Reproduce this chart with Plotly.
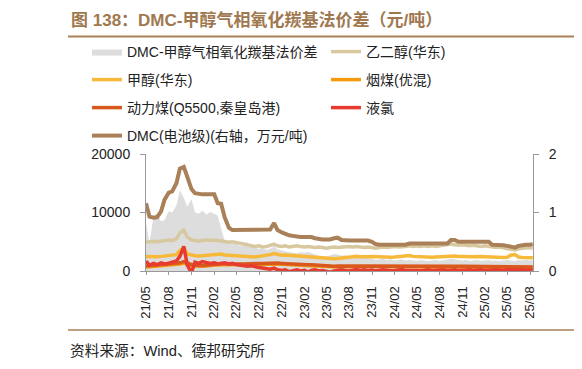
import pandas as pd
import plotly.graph_objects as go

# semi-monthly observation dates (1st / 15th), May 2021 - Aug 2025
dates = list(pd.date_range("2021-05-01", "2025-08-01", freq="SMS").strftime("%Y-%m-%d")) + ["2025-08-12"]

tick_labels = ["21/05", "21/08", "21/11", "22/02", "22/05", "22/08", "22/11", "23/02", "23/05",
               "23/08", "23/11", "24/02", "24/05", "24/08", "24/11", "25/02", "25/05", "25/08"]
left_ticks = [0, 10000, 20000]
right_ticks = [0, 1, 2]

spread = [8300, 4800, 9500, 9800, 8500, 8700, 10200, 10000, 11200, 13800, 12500, 11000,
          12300, 10000, 9800, 10300, 9600, 10100, 9800, 9500, 7200, 5200, 4800, 4600,
          4700, 4300, 4400, 4900, 4200, 4000, 3800, 3900, 3600, 3800, 4200, 3700,
          3500, 3300, 3200, 3100, 3000, 3200, 3100, 3300, 3000, 2800, 2600, 2400,
          2500, 2700, 2900, 2800, 2600, 2700, 2500, 2600, 2400, 2300, 2400, 2200,
          2100, 1900, 2000, 2100, 1900, 2000, 1800, 1900, 2000, 1800, 1900, 1800,
          1700, 1900, 1800, 1700, 1800, 1900, 1700, 1800, 1900, 2100, 2000, 1900,
          1800, 1900, 1700, 1800, 1900, 1700, 1800, 1900, 1700, 1800, 1700, 1800,
          1900, 1800, 1700, 1900, 1800, 1900, 1800, 1900]

meg = [4900, 5000, 5100, 5000, 5100, 5200, 5300, 5200, 5500, 6500, 7000, 5800,
       5300, 5200, 5100, 5200, 5300, 5200, 5300, 5200, 5100, 5000, 4900, 5000,
       4900, 4800, 4600, 4500, 4300, 4200, 4300, 4100, 4200, 4400, 4600, 4300,
       4200, 4300, 4100, 4200, 4300, 4200, 4100, 4200, 4100, 4000, 4100, 4000,
       3900, 4000, 4100, 4000, 4100, 4100, 4200, 4100, 4200, 4100, 4000, 4100,
       4000, 3900, 4000, 4100, 4000, 4100, 4200, 4100, 4100, 4200, 4300, 4200,
       4300, 4200, 4300, 4200, 4300, 4200, 4300, 4400, 4400, 4600, 4500, 4400,
       4500, 4400, 4300, 4400, 4300, 4200, 4300, 4200, 4100, 4000, 4100, 3900,
       3800, 3700, 3600, 3800, 3900, 3900, 4000, 3900]

methanol = [2500, 2450, 2400, 2450, 2500, 2550, 2600, 2650, 2800, 3500, 3900, 2900,
            2700, 2600, 2550, 2600, 2650, 2700, 2750, 2800, 2900, 2750, 2700, 2650,
            2700, 2650, 2600, 2550, 2450, 2400, 2500, 2550, 2600, 2800, 3000, 2850,
            2700, 2750, 2700, 2650, 2600, 2550, 2500, 2450, 2400, 2350, 2300, 2200,
            2100, 2050, 2100, 2150, 2250, 2300, 2400, 2450, 2500, 2450, 2400, 2450,
            2500, 2450, 2400, 2450, 2400, 2350, 2400, 2450, 2500, 2600, 2650, 2500,
            2450, 2400, 2450, 2400, 2350, 2400, 2450, 2400, 2450, 2500, 2550, 2500,
            2550, 2500, 2450, 2500, 2550, 2500, 2450, 2400, 2450, 2400, 2350, 2300,
            2350, 2700, 2800, 2400, 2300, 2250, 2300, 2250]

bitum_coal = [700, 750, 800, 850, 850, 900, 950, 1000, 1100, 1200, 1350, 1100,
              950, 850, 800, 780, 850, 950, 1000, 1050, 1150, 1100, 1050, 1050,
              1100, 1050, 1050, 1100, 1100, 1150, 1150, 1150, 1200, 1150, 1150, 1200,
              1150, 1100, 1050, 1000, 1000, 950, 950, 900, 900, 850, 850, 800,
              750, 700, 680, 700, 720, 750, 780, 800, 820, 810, 790, 780,
              790, 800, 790, 780, 760, 750, 740, 730, 720, 710, 720, 730,
              740, 750, 740, 730, 720, 710, 720, 730, 720, 710, 700, 690,
              680, 670, 660, 650, 640, 620, 600, 590, 580, 560, 550, 540,
              530, 520, 530, 550, 560, 570, 580, 590]

thermal_coal = [850, 900, 950, 1000, 1000, 1050, 1100, 1150, 1250, 1400, 1600, 1300,
                1100, 1000, 950, 900, 1000, 1100, 1150, 1200, 1300, 1250, 1200, 1200,
                1250, 1200, 1200, 1250, 1250, 1300, 1300, 1300, 1350, 1300, 1300, 1350,
                1300, 1250, 1200, 1150, 1150, 1100, 1100, 1050, 1050, 1000, 1000, 950,
                900, 850, 800, 850, 850, 880, 900, 950, 950, 950, 900, 900,
                920, 930, 920, 900, 880, 870, 860, 850, 830, 820, 840, 850,
                860, 870, 860, 850, 840, 830, 840, 850, 840, 830, 820, 810,
                800, 790, 780, 770, 760, 740, 720, 700, 680, 660, 650, 630,
                620, 610, 620, 640, 650, 660, 670, 680]

chlorine = [1700, 1000, 1300, 1100, 1400, 1200, 1350, 1500, 1700, 2500, 4200, 1000,
            -300, 1500, 1300, 1600, 1400, 1300, 1400, 1200, 1300, 1400, 1200, 1300,
            1100, 1000, 900, 800, 900, 700, 600, 500, 400, 300, 500, 200,
            100, 200, -100, 100, 200, 0, 100, -200, 100, 200, 0, 100,
            -100, -200, 0, 100, 200, 100, 0, 150, 250, 100, 200, 100,
            150, 0, 100, 200, 150, 50, 100, 200, 250, 100, 150, 200,
            100, 50, 150, 200, 100, 150, 250, 200, 100, 150, 200, 100,
            50, 150, 200, 100, 150, 200, 100, 150, 100, 200, 150, 100,
            200, 150, 100, 150, 200, 100, 150, 100]

dmc = [1.16, 0.93, 0.91, 0.92, 1.02, 1.22, 1.34, 1.36, 1.50, 1.75, 1.78, 1.60,
       1.40, 1.33, 1.31, 1.31, 1.31, 1.31, 1.31, 1.16, 1.15, 0.92, 0.74, 0.70,
       0.70, 0.70, 0.70, 0.70, 0.70, 0.70, 0.70, 0.70, 0.70, 0.71, 0.82, 0.70,
       0.66, 0.63, 0.61, 0.60, 0.58, 0.58, 0.58, 0.58, 0.58, 0.56, 0.54, 0.54,
       0.54, 0.54, 0.56, 0.57, 0.53, 0.52, 0.52, 0.52, 0.52, 0.52, 0.52, 0.52,
       0.50, 0.46, 0.45, 0.45, 0.45, 0.45, 0.45, 0.45, 0.45, 0.45, 0.47, 0.47,
       0.47, 0.47, 0.47, 0.47, 0.47, 0.47, 0.47, 0.47, 0.47, 0.53, 0.53, 0.50,
       0.50, 0.50, 0.50, 0.50, 0.50, 0.50, 0.50, 0.50, 0.45, 0.45, 0.45, 0.44,
       0.43, 0.41, 0.40, 0.43, 0.45, 0.45, 0.45, 0.46]

names = ["DMC-甲醇气相氧化羰基法价差", "乙二醇(华东)", "甲醇(华东)", "烟煤(优混)",
         "动力煤(Q5500,秦皇岛港)", "液氯", "DMC(电池级)(右轴，万元/吨)"]
colors = ["#dddddd", "#d8c8a0", "#f7b93a", "#f59a0c", "#d9581e", "#e63b2e", "#a98058"]

W, H = 582, 369
OFF = 8  # page body margin
# plot area in page pixels: left 146, right 533, top 154, bottom 271
L, R, T, B = 146 - OFF, W - (533 - OFF), 154 - OFF, H - (271 - OFF)
PW, PH = W - L - R, H - T - B

def px(x):
    return (x - OFF - L) / PW

def py(y):
    return (H - B - (y - OFF)) / PH

FONT = "Liberation Sans, Arial, Noto Sans CJK SC"

fig = go.Figure()
fig.add_trace(go.Scatter(x=dates, y=spread, name=names[0], mode="lines", fill="tozeroy",
                         fillcolor=colors[0], line=dict(width=0, color=colors[0]), legend="legend"))
series = [meg, methanol, bitum_coal, thermal_coal, chlorine]
for k, s in enumerate(series, start=1):
    fig.add_trace(go.Scatter(x=dates, y=s, name=names[k], mode="lines",
                             line=dict(width=3.5, color=colors[k]), legend=f"legend{k+1}"))
fig.add_trace(go.Scatter(x=dates, y=dmc, name=names[6], mode="lines", yaxis="y2",
                         line=dict(width=4, color=colors[6]), legend="legend7"))

# legend placement: (col x px, row center y px) in page pixels
col_x = [87, 326]
row_y = [52, 80, 108, 136]
pos = [(0, 0), (1, 0), (0, 1), (1, 1), (0, 2), (1, 2), (0, 3)]
legends = {}
for k, (c, r) in enumerate(pos):
    key = "legend" if k == 0 else f"legend{k+1}"
    legends[key] = dict(x=px(col_x[c]), y=py(row_y[r]), xref="paper", yref="paper",
                        xanchor="left", yanchor="middle", bgcolor="rgba(0,0,0,0)",
                        font=dict(family=FONT, size=14, color="#222"))

tick_vals = ["20" + t[:2] + "-" + t[3:] + "-01" for t in tick_labels]

fig.update_layout(
    width=W, height=H, margin=dict(l=L, r=R, t=T, b=B, autoexpand=False),
    paper_bgcolor="white", plot_bgcolor="white",
    font=dict(family=FONT, size=14, color="#222"),
    showlegend=True,
    xaxis=dict(type="date", range=["2021-05-01", "2025-08-13"], tickmode="array",
               tickvals=tick_vals, ticktext=tick_labels, tickangle=-90,
               tickfont=dict(size=13, color="#222"), showline=True, linecolor="#999",
               linewidth=1, ticks="outside", ticklen=3, tickcolor="#999",
               showgrid=False, zeroline=False, ticklabelstandoff=6, automargin=False),
    yaxis=dict(range=[0, 20000], tickmode="array", tickvals=left_ticks,
               ticktext=[str(v) for v in left_ticks], showline=True, linecolor="#999",
               ticks="outside", ticklen=5, tickcolor="#999", showgrid=False, zeroline=False,
               tickfont=dict(size=14, color="#222"), ticklabelstandoff=7, automargin=False),
    yaxis2=dict(range=[0, 2], tickmode="array", tickvals=right_ticks,
                ticktext=[str(v) for v in right_ticks], overlaying="y", side="right", showline=True,
                linecolor="#999", ticks="outside", ticklen=5, tickcolor="#999", showgrid=False,
                zeroline=False, tickfont=dict(size=14, color="#222"), ticklabelstandoff=7,
                automargin=False),
    **legends,
)

fig.add_shape(type="line", xref="paper", yref="paper", x0=px(68), x1=px(590), y0=py(36.5), y1=py(36.5),
              line=dict(color="#a98058", width=2))
fig.add_shape(type="line", xref="paper", yref="paper", x0=px(68), x1=px(590), y0=py(330), y1=py(330),
              line=dict(color="#a98058", width=1.5))
fig.add_annotation(xref="paper", yref="paper", x=px(69), y=py(20), xanchor="left", yanchor="middle",
                   text="<b>图 138：DMC-甲醇气相氧化羰基法价差（元/吨）</b>", showarrow=False,
                   font=dict(family="Liberation Sans, Noto Sans CJK SC", size=17, color="#a0784f"))
fig.add_annotation(xref="paper", yref="paper", x=px(68), y=py(350), xanchor="left", yanchor="middle",
                   text="资料来源：Wind、德邦研究所", showarrow=False,
                   font=dict(family="Liberation Sans, Noto Sans CJK SC", size=14.7, color="#222"))

fig.write_html("out.html")
